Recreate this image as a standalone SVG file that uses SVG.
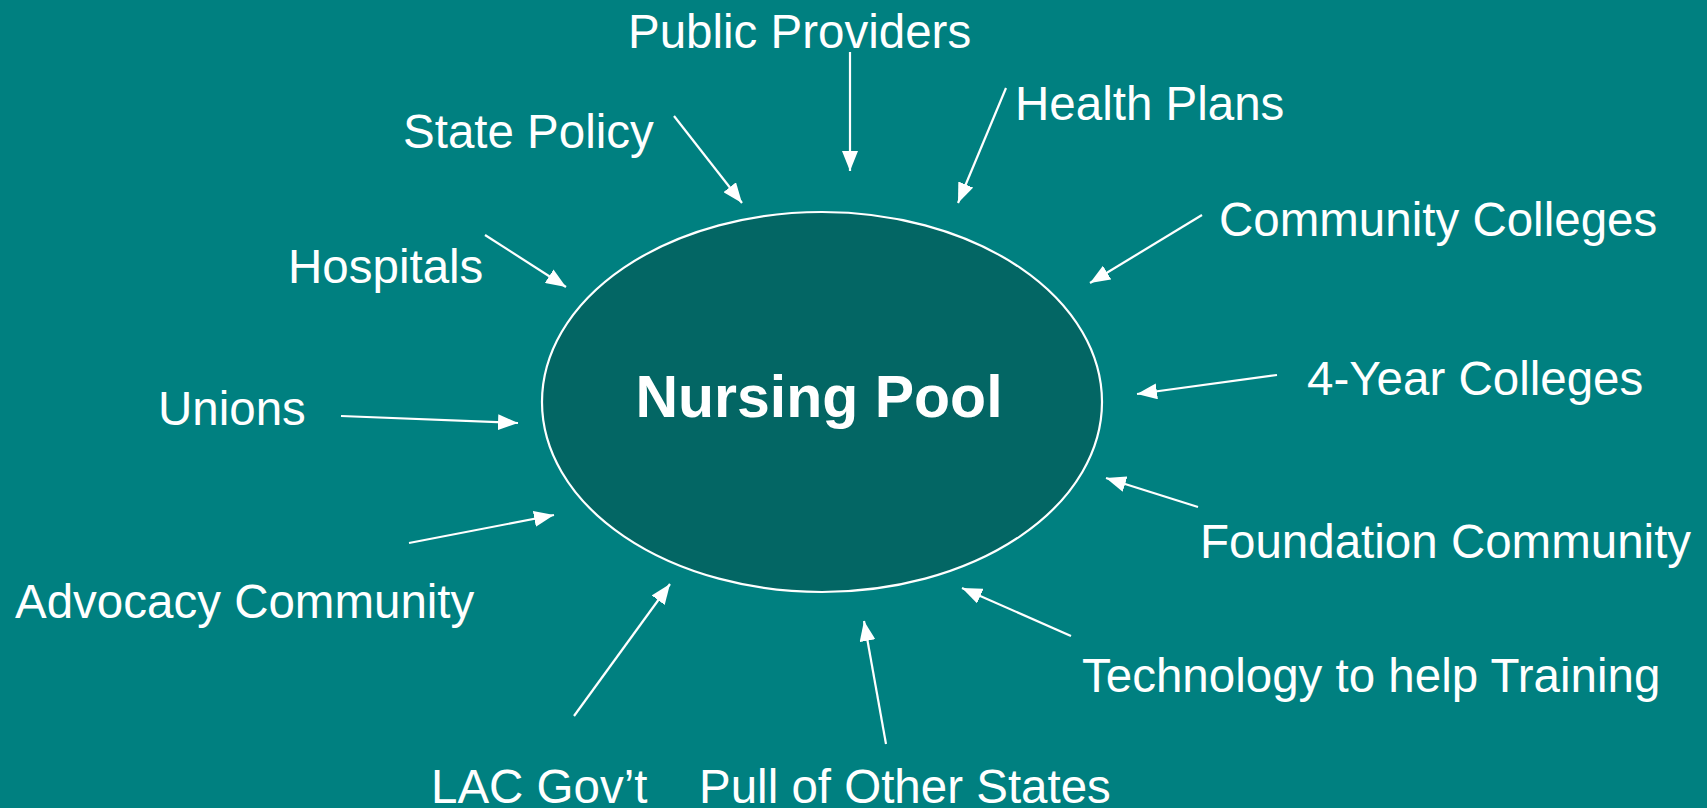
<svg xmlns="http://www.w3.org/2000/svg" width="1707" height="808" viewBox="0 0 1707 808">
  <style>
    .lbl { font-family: "Liberation Sans", Arial, sans-serif; font-size: 47.5px; fill: #ffffff; }
    .title { font-family: "Liberation Sans", Arial, sans-serif; font-size: 59px; font-weight: bold; fill: #ffffff; }
    .conn { stroke: #ffffff; stroke-width: 2.2; fill: none; marker-end: url(#head); }
  </style>
  <defs>
    <marker id="head" markerUnits="userSpaceOnUse" viewBox="0 0 20 16" markerWidth="20" markerHeight="16" refX="20" refY="8" orient="auto">
      <path d="M0,0 L20,8 L0,16 z" fill="#ffffff"/>
    </marker>
  </defs>

  <!-- background -->
  <rect x="0" y="0" width="1707" height="808" fill="#008080"/>

  <!-- central pool -->
  <g id="nursing-pool">
    <ellipse cx="822" cy="402" rx="280" ry="190" fill="#036664" stroke="#ffffff" stroke-width="2.2"/>
    <text class="title" x="819" y="417" text-anchor="middle">Nursing Pool</text>
  </g>

  <!-- influences -->
  <g id="public-providers"><text class="lbl" x="628" y="48">Public Providers</text></g>
  <g id="health-plans"><text class="lbl" x="1015" y="120">Health Plans</text></g>
  <g id="state-policy"><text class="lbl" x="403" y="148">State Policy</text></g>
  <g id="community-colleges"><text class="lbl" x="1219" y="236">Community Colleges</text></g>
  <g id="hospitals"><text class="lbl" x="288" y="283">Hospitals</text></g>
  <g id="unions"><text class="lbl" x="158" y="425">Unions</text></g>
  <g id="four-year-colleges"><text class="lbl" x="1307" y="395">4-Year Colleges</text></g>
  <g id="foundation-community"><text class="lbl" x="1200" y="558">Foundation Community</text></g>
  <g id="advocacy-community"><text class="lbl" x="15" y="618">Advocacy Community</text></g>
  <g id="technology-training"><text class="lbl" x="1082" y="692">Technology to help Training</text></g>
  <g id="lac-govt"><text class="lbl" x="431" y="803">LAC Gov’t</text></g>
  <g id="pull-other-states"><text class="lbl" x="699" y="803">Pull of Other States</text></g>

  <!-- connectors -->
  <g id="connectors">
    <line class="conn" x1="850" y1="52" x2="850" y2="171"/>
    <line class="conn" x1="674" y1="116" x2="742" y2="203"/>
    <line class="conn" x1="1006" y1="88" x2="958" y2="203"/>
    <line class="conn" x1="1202" y1="215" x2="1090" y2="283"/>
    <line class="conn" x1="485" y1="235" x2="566" y2="287"/>
    <line class="conn" x1="341" y1="416" x2="518" y2="423"/>
    <line class="conn" x1="1277" y1="375" x2="1137" y2="394"/>
    <line class="conn" x1="1198" y1="507" x2="1106" y2="478"/>
    <line class="conn" x1="409" y1="543" x2="554" y2="515"/>
    <line class="conn" x1="1071" y1="636" x2="962" y2="588"/>
    <line class="conn" x1="574" y1="716" x2="670" y2="584"/>
    <line class="conn" x1="886" y1="744" x2="864" y2="621"/>
  </g>
</svg>
